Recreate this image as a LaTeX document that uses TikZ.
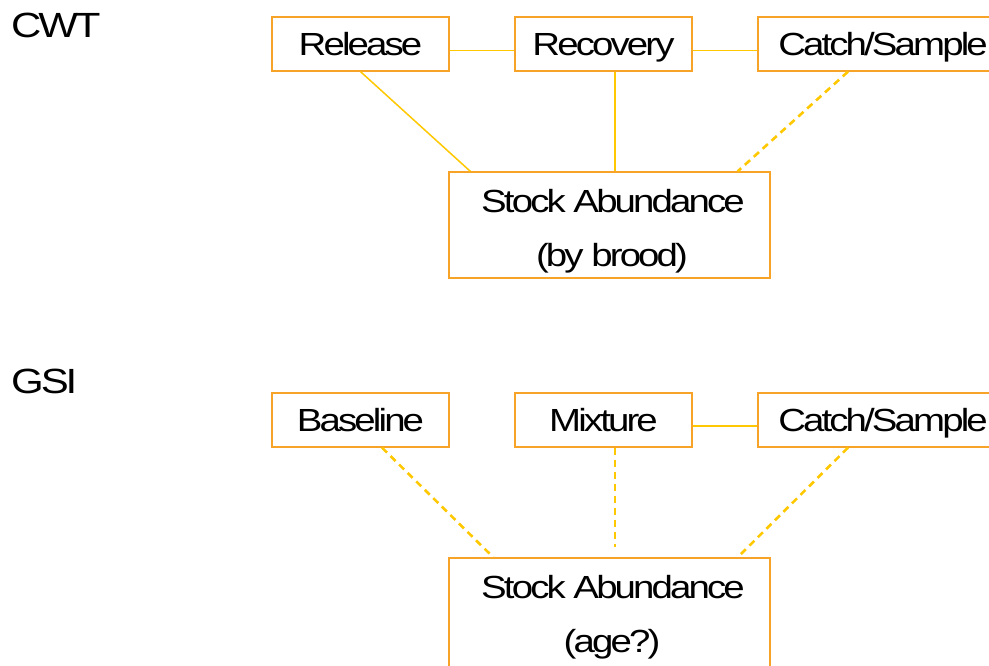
\documentclass[tikz,border=0pt]{standalone}
\usepackage{fontspec}
\setmainfont{Liberation Sans}[FakeStretch=1.2,LetterSpace=-9]
\begin{document}
\begin{tikzpicture}[x=1pt,y=-1pt,
  boxline/.style={draw=boxorange,line width=1.3pt},
  stepbox/.style={boxline,minimum width=177pt,minimum height=54pt,inner sep=0pt,
     font=\fontsize{32}{38}\selectfont,text height=23pt,text depth=0pt},
  bigbox/.style={boxline,minimum width=321pt,inner sep=0pt},
  txt/.style={anchor=base,inner sep=0pt,font=\fontsize{32}{38}\selectfont},
  head/.style={anchor=base west,inner sep=0pt,font=\fontsize{35}{40}\selectfont},
  solidlink/.style={draw=linegold,line width=1.5pt},
  dashlink/.style={draw=linegold,line width=2.6pt,dash pattern=on 7pt off 5pt}]
\definecolor{boxorange}{RGB}{247,163,40}
\definecolor{linegold}{RGB}{255,200,0}
\useasboundingbox (0,0) rectangle (989,665);
\clip (0,0) rectangle (989,665);
% headings
\node[head] (cwt) at (11,37) {CWT};
\node[head] (gsi) at (11,393) {GSI};
% CWT row
\node[stepbox] (rel) at (360.5,44) {Release};
\node[stepbox] (rec) at (603.5,44) {Recovery};
\node[stepbox,minimum width=250pt] (cat1) at (883,44) {Catch/Sample};
\node[bigbox,minimum height=106pt] (sa1) at (609.5,225) {};
\node[txt] (sa1a) at (613,212) {Stock Abundance};
\node[txt] (sa1b) at (612,266) {(by brood)};
% GSI row
\node[stepbox] (base) at (360.5,420) {Baseline};
\node[stepbox] (mix) at (603.5,420) {Mixture};
\node[stepbox,minimum width=250pt] (cat2) at (883,420) {Catch/Sample};
\node[bigbox,minimum height=130pt] (sa2) at (609.5,623) {};
\node[txt] (sa2a) at (613,598) {Stock Abundance};
\node[txt] (sa2b) at (612,652) {(age?)};
% CWT connectors
\draw[solidlink] ([yshift=-6.5pt]rel.east) -- ([yshift=-6.5pt]rec.west);
\draw[solidlink] ([yshift=-6.5pt]rec.east) -- ([yshift=-6.5pt]cat1.west);
\draw[solidlink] (rel.south) -- ([xshift=22pt]sa1.north west);
\draw[solidlink] ([xshift=11.5pt]rec.south) -- ([xshift=11.5pt]rec.south |- sa1.north);
\draw[dashlink] ([xshift=-35pt]cat1.south) -- ([xshift=-33pt]sa1.north east);
% GSI connectors
\draw[solidlink] ([yshift=-6pt]mix.east) -- ([yshift=-6pt]cat2.west);
\draw[dashlink] ([xshift=21.5pt]base.south) -- ([xshift=45pt]sa2.north west);
\coordinate (mixend) at ([xshift=11.5pt,yshift=10pt]mix.south |- sa2.north);
\draw[dashlink] ([xshift=11.5pt]mix.south) -- (mixend);
\draw[dashlink] ([xshift=-35pt]cat2.south) -- ([xshift=-33pt]sa2.north east);
\end{tikzpicture}
\end{document}
